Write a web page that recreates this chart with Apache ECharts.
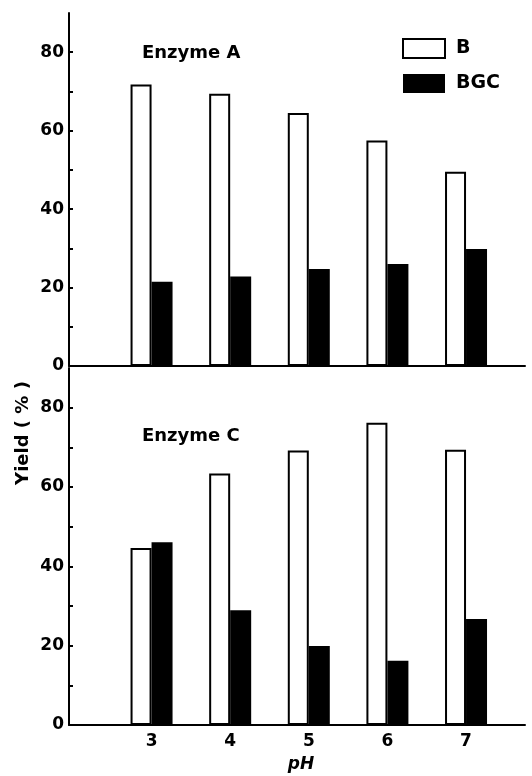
<!DOCTYPE html>
<html>
<head>
<meta charset="utf-8">
<script src="https://cdn.jsdelivr.net/npm/echarts@6/dist/echarts.min.js"></script>
<style>
  html, body { margin: 0; padding: 0; background: #fff; }
  #chart { width: 532px; height: 776px; }
</style>
</head>
<body>
<div id="chart"></div>
<script>
// pH values (x positions)
const phValues = [3, 4, 5, 6, 7];
// Enzyme A yields (%)
const enzymeA_B = [71.8, 69.4, 64.5, 57.5, 49.5];
const enzymeA_BGC = [21.5, 22.8, 24.7, 26.0, 29.8];
// Enzyme C yields (%)
const enzymeC_B = [44.6, 63.4, 69.2, 76.2, 69.4];
const enzymeC_BGC = [46.1, 28.9, 19.9, 16.2, 26.7];
// tick labels
const yLabels = [0, 20, 40, 60, 80];
const yTicks = [10, 20, 30, 40, 50, 60, 70, 80];

const font = "DejaVu Sans";
const pairs = (vals) => phValues.map((x, i) => [x, vals[i]]);

const chart = echarts.init(document.getElementById("chart"));

const yAxisBase = {
  type: "value",
  min: 0,
  max: 90,
  axisLine: { show: true, lineStyle: { color: "#000", width: 2 } },
  axisTick: {
    show: true,
    inside: true,
    length: 4,
    customValues: yTicks,
    lineStyle: { color: "#000", width: 2 },
  },
  axisLabel: {
    customValues: yLabels,
    margin: 5,
    color: "#000",
    fontFamily: font,
    fontWeight: "bold",
    fontSize: 17,
  },
  splitLine: { show: false },
};

const xAxisBase = {
  type: "value",
  min: 1.95,
  max: 7.75,
  axisLine: { show: true, onZero: false, lineStyle: { color: "#000", width: 2 } },
  axisTick: { show: false },
  splitLine: { show: false },
};

const barB = {
  type: "bar",
  name: "B",
  barWidth: 21,
  barGap: "0%",
  itemStyle: { color: "#fff", borderColor: "#000", borderWidth: 2 },
};
const barBGC = {
  type: "bar",
  name: "BGC",
  barWidth: 21,
  barGap: "0%",
  itemStyle: { color: "#000" },
};

chart.setOption({
  backgroundColor: "#fff",
  animation: false,
  title: [
    {
      text: "Enzyme A",
      left: 137,
      top: 39,
      textStyle: { fontFamily: font, fontWeight: "bold", fontSize: 18, color: "#000" },
    },
    {
      text: "Enzyme C",
      left: 137,
      top: 422,
      textStyle: { fontFamily: font, fontWeight: "bold", fontSize: 18, color: "#000" },
    },
  ],
  legend: {
    data: ["B", "BGC"],
    orient: "vertical",
    left: 397,
    top: 33,
    itemWidth: 42,
    itemHeight: 19,
    itemGap: 15,
    icon: "rect",
    textStyle: { fontFamily: font, fontWeight: "bold", fontSize: 19, color: "#000", padding: [0, 0, 0, 6] },
  },
  grid: [
    { left: 69, right: 7, top: 13, height: 353 },
    { left: 69, right: 7, top: 368, height: 357 },
  ],
  xAxis: [
    Object.assign({}, xAxisBase, { gridIndex: 0, axisLabel: { show: false } }),
    Object.assign({}, xAxisBase, {
      gridIndex: 1,
      name: "pH",
      nameLocation: "middle",
      nameGap: 31,
      nameTextStyle: { fontFamily: font, fontWeight: "bold", fontStyle: "italic", fontSize: 17, color: "#000", padding: [0, 0, 0, 8] },
      axisLabel: {
        customValues: phValues,
        margin: 8,
        color: "#000",
        fontFamily: font,
        fontWeight: "bold",
        fontSize: 17,
      },
    }),
  ],
  yAxis: [
    Object.assign({}, yAxisBase, { gridIndex: 0 }),
    Object.assign({}, yAxisBase, { gridIndex: 1 }),
  ],
  graphic: [
    {
      type: "text",
      x: 23,
      y: 433,
      rotation: Math.PI / 2,
      style: {
        text: "Yield ( % )",
        fill: "#000",
        font: "bold 18px 'DejaVu Sans'",
        align: "center",
        verticalAlign: "middle",
      },
    },
  ],
  series: [
    Object.assign({}, barB, { xAxisIndex: 0, yAxisIndex: 0, data: pairs(enzymeA_B) }),
    Object.assign({}, barBGC, { xAxisIndex: 0, yAxisIndex: 0, data: pairs(enzymeA_BGC) }),
    Object.assign({}, barB, { xAxisIndex: 1, yAxisIndex: 1, data: pairs(enzymeC_B) }),
    Object.assign({}, barBGC, { xAxisIndex: 1, yAxisIndex: 1, data: pairs(enzymeC_BGC) }),
  ],
});
</script>
</body>
</html>
